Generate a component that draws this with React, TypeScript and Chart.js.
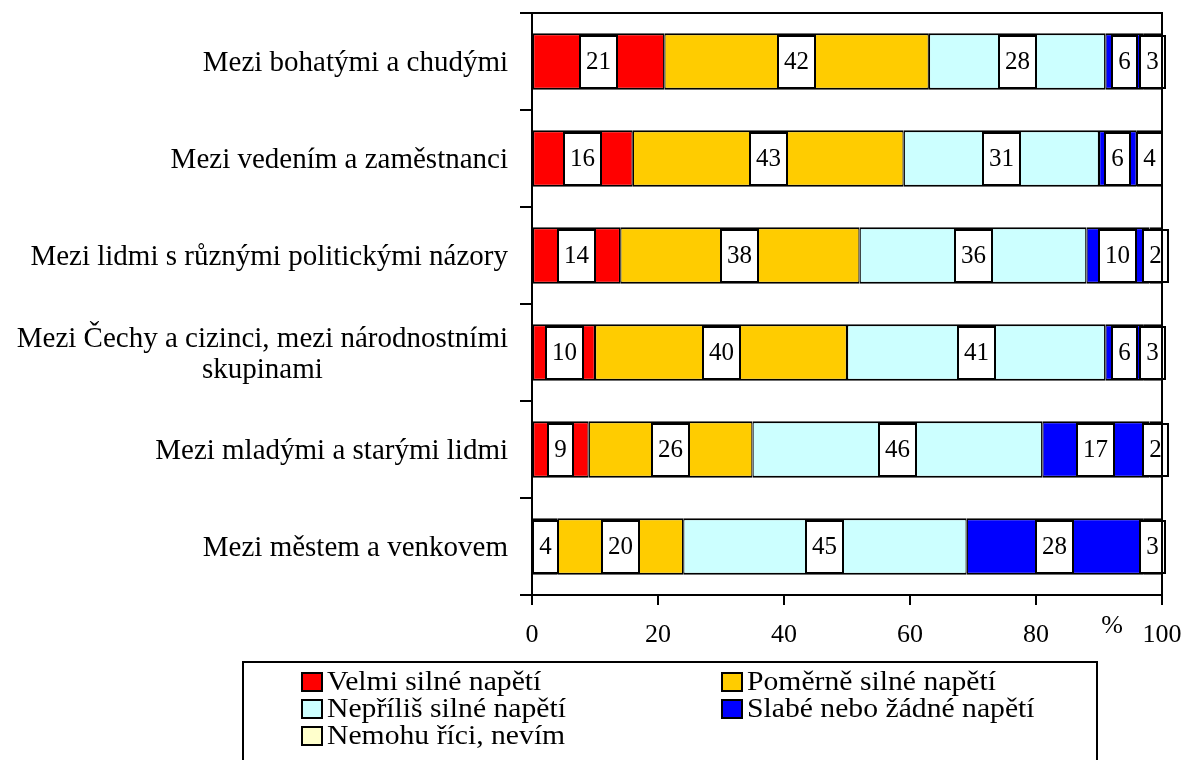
import React, { useEffect, useRef } from 'react';
import { Chart, registerables } from 'chart.js';
Chart.register(...registerables);

const categories: (string | string[])[] = [
  'Mezi bohatými a chudými',
  'Mezi vedením a zaměstnanci',
  'Mezi lidmi s různými politickými názory',
  ['Mezi Čechy a cizinci, mezi národnostními', 'skupinami'],
  'Mezi mladými a starými lidmi',
  'Mezi městem a venkovem',
];
const seriesNames = [
  'Velmi silné napětí',
  'Poměrně silné napětí',
  'Nepříliš silné napětí',
  'Slabé nebo žádné napětí',
  'Nemohu říci, nevím',
];
const seriesColors = ['#FF0000', '#FFCC00', '#CCFFFF', '#0000FF', '#FFFFCC'];
const velmiSilne = [21, 16, 14, 10, 9, 4];
const pomerneSilne = [42, 43, 38, 40, 26, 20];
const neprilisSilne = [28, 31, 36, 41, 46, 45];
const slabeNeboZadne = [6, 6, 10, 6, 17, 28];
const nemohuRici = [3, 4, 2, 3, 2, 3];
const xTicks = [0, 20, 40, 60, 80, 100];
const unitLabel = '%';

const FONT = '"Liberation Serif", "Times New Roman", serif';

const labelPlugin = {
  id: 'customLabels',
  afterDatasetsDraw(chart: any) {
    const ctx = chart.ctx;
    ctx.save();
    ctx.font = `25px ${FONT}`;
    ctx.textAlign = 'center';
    ctx.textBaseline = 'middle';
    chart.data.datasets.forEach((ds: any, i: number) => {
      const meta = chart.getDatasetMeta(i);
      meta.data.forEach((el: any, j: number) => {
        const v = ds.data[j];
        if (!v) return;
        const p = el.getProps(['x', 'y', 'base', 'height'], true);
        const cx = (p.x + p.base) / 2;
        const cy = p.y;
        const txt = String(v);
        const w = Math.round(ctx.measureText(txt).width + 12);
        const h = Math.round(p.height - 4);
        const x0 = Math.round(cx - w / 2);
        const y0 = Math.round(cy - h / 2);
        ctx.fillStyle = '#FFFFFF';
        ctx.fillRect(x0, y0, w, h);
        ctx.strokeStyle = '#000';
        ctx.lineWidth = 2;
        ctx.strokeRect(x0, y0, w, h);
        ctx.fillStyle = '#000';
        ctx.fillText(txt, x0 + w / 2, cy + 1);
      });
    });
    ctx.restore();
  },
  afterDraw(chart: any) {
    const ctx = chart.ctx;
    const area = chart.chartArea;
    ctx.save();
    // plot area top and right border
    ctx.strokeStyle = '#000';
    ctx.lineWidth = 2;
    ctx.beginPath();
    ctx.moveTo(area.left, area.top);
    ctx.lineTo(area.right, area.top);
    ctx.lineTo(area.right, area.bottom);
    ctx.stroke();

    // category labels
    const yScale = chart.scales.y;
    ctx.fillStyle = '#000';
    ctx.font = `29px ${FONT}`;
    ctx.textBaseline = 'middle';
    const rightX = area.left - 24;
    categories.forEach((lab, i) => {
      const cy = yScale.getPixelForValue(i) + 2;
      if (Array.isArray(lab)) {
        const widest = Math.max(...lab.map((l) => ctx.measureText(l).width));
        const cx = rightX - widest / 2;
        const lh = 31;
        ctx.textAlign = 'center';
        lab.forEach((l, k) => {
          ctx.fillText(l, cx, cy + (k - (lab.length - 1) / 2) * lh);
        });
      } else {
        ctx.textAlign = 'right';
        ctx.fillText(lab, rightX, cy);
      }
    });

    // unit label
    ctx.font = `26px ${FONT}`;
    ctx.textAlign = 'center';
    ctx.fillText(unitLabel, 1112, 626);

    // legend
    const lx = 243, ly = 662, lw = 854, lh = 120;
    ctx.strokeStyle = '#000';
    ctx.lineWidth = 2;
    ctx.strokeRect(lx, ly, lw, lh);
    const cols = [302, 722];
    const rows = [682, 709, 736];
    chart.data.datasets.forEach((ds: any, i: number) => {
      const x = cols[i % 2];
      const y = rows[Math.floor(i / 2)];
      ctx.fillStyle = ds.backgroundColor;
      ctx.fillRect(x, y - 9, 20, 18);
      ctx.strokeStyle = '#000';
      ctx.lineWidth = 2;
      ctx.strokeRect(x, y - 9, 20, 18);
      ctx.fillStyle = '#000';
      ctx.textAlign = 'left';
      ctx.textBaseline = 'middle';
      ctx.save();
      ctx.translate(x + 25, y);
      ctx.scale(1.06, 1);
      ctx.font = `28px ${FONT}`;
      ctx.fillText(ds.label, 0, 1);
      ctx.restore();
    });
    ctx.restore();
  },
};

export default function App() {
  const ref = useRef<HTMLCanvasElement>(null);
  useEffect(() => {
    const values = [velmiSilne, pomerneSilne, neprilisSilne, slabeNeboZadne, nemohuRici];
    const chart = new Chart(ref.current as HTMLCanvasElement, {
      type: 'bar',
      data: {
        labels: categories.map((c) => (Array.isArray(c) ? c.join(' ') : c)),
        datasets: values.map((d, i) => ({
          label: seriesNames[i],
          data: d,
          backgroundColor: seriesColors[i],
          borderColor: '#000',
          borderWidth: { top: 2, bottom: 2, left: 1.25, right: 1.25 },
          borderSkipped: false,
          barPercentage: 0.58,
          categoryPercentage: 1,
        })),
      },
      options: {
        indexAxis: 'y',
        animation: false,
        responsive: false,
        layout: { padding: { left: 0, right: 24, top: 13, bottom: 0 } },
        plugins: { legend: { display: false }, tooltip: { enabled: false } },
        scales: {
          x: {
            stacked: true,
            min: 0,
            max: 100,
            afterBuildTicks: (s: any) => {
              s.ticks = xTicks.map((v) => ({ value: v }));
            },
            afterFit: (s: any) => {
              s.height = 165;
              s.paddingLeft = 0;
              s.paddingRight = 0;
            },
            ticks: {
              color: '#000',
              font: { family: FONT, size: 26 },
              padding: 15,
              maxRotation: 0,
            },
            grid: {
              drawOnChartArea: false,
              drawTicks: true,
              tickLength: 10,
              color: '#000',
              lineWidth: 2,
            },
            border: { display: true, color: '#000', width: 2 },
          },
          y: {
            stacked: true,
            afterFit: (s: any) => {
              s.width = 532;
              s.paddingTop = 0;
              s.paddingBottom = 0;
            },
            ticks: { display: false },
            grid: {
              offset: true,
              drawOnChartArea: false,
              drawTicks: true,
              tickLength: 12,
              color: '#000',
              lineWidth: 2,
            },
            border: { display: true, color: '#000', width: 2 },
          },
        },
      },
      plugins: [labelPlugin],
    } as any);
    return () => chart.destroy();
  }, []);
  return (
    <div style={{ position: 'absolute', left: 0, top: 0, width: 1186, height: 760, background: '#fff' }}>
      <canvas ref={ref} width={1186} height={760} style={{ width: 1186, height: 760 }} />
    </div>
  );
}
